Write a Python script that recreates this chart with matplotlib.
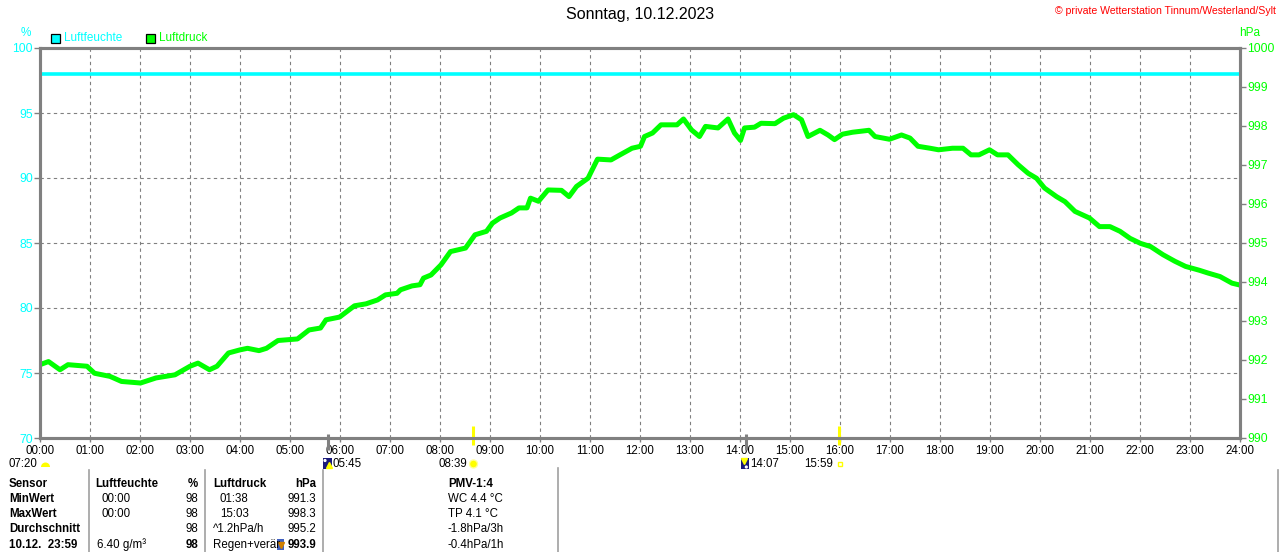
import matplotlib
matplotlib.use('Agg')
import matplotlib.pyplot as plt
from matplotlib.patches import Rectangle, Circle, Wedge

# Luftdruck (hPa) ueber den Tag, Stunden
stunden = [0.00, 0.17, 0.40, 0.56, 0.94, 1.09, 1.40, 1.63, 2.01, 2.32, 2.70, 3.00,
           3.16, 3.39, 3.54, 3.77, 4.00, 4.15, 4.38, 4.53, 4.76, 5.15, 5.38, 5.61,
           5.72, 5.99, 6.29, 6.52, 6.75, 6.91, 7.14, 7.21, 7.44, 7.60, 7.67, 7.82,
           8.02, 8.21, 8.51, 8.70, 8.93, 9.05, 9.20, 9.43, 9.58, 9.74, 9.81, 9.97,
           10.16, 10.43, 10.58, 10.73, 10.96, 11.15, 11.42, 11.60, 11.84, 12.01,
           12.09, 12.25, 12.42, 12.74, 12.87, 13.03, 13.19, 13.31, 13.56, 13.76,
           13.89, 14.01, 14.09, 14.29, 14.42, 14.70, 14.87, 15.07, 15.23, 15.36,
           15.60, 15.76, 15.89, 16.05, 16.25, 16.58, 16.70, 16.99, 17.23, 17.40,
           17.56, 17.80, 17.97, 18.25, 18.46, 18.62, 18.78, 18.99, 19.15, 19.36,
           19.56, 19.76, 19.93, 20.09, 20.33, 20.50, 20.70, 20.99, 21.19, 21.40,
           21.60, 21.80, 22.01, 22.21, 22.46, 22.70, 22.91, 23.19, 23.36, 23.60,
           23.84, 23.97]
luftdruck = [991.88, 991.96, 991.75, 991.88, 991.84, 991.66, 991.58, 991.45, 991.41,
             991.54, 991.62, 991.84, 991.92, 991.75, 991.84, 992.18, 992.26, 992.30,
             992.24, 992.30, 992.50, 992.54, 992.77, 992.82, 993.03, 993.10, 993.39,
             993.44, 993.54, 993.67, 993.71, 993.80, 993.90, 993.93, 994.10, 994.18,
             994.44, 994.78, 994.87, 995.21, 995.30, 995.51, 995.64, 995.77, 995.90,
             995.90, 996.15, 996.07, 996.36, 996.35, 996.19, 996.45, 996.66, 997.15,
             997.13, 997.26, 997.43, 997.48, 997.73, 997.82, 998.03, 998.03, 998.18,
             997.90, 997.73, 997.99, 997.95, 998.18, 997.82, 997.63, 997.95, 997.97,
             998.07, 998.06, 998.20, 998.29, 998.16, 997.73, 997.89, 997.77, 997.65,
             997.79, 997.84, 997.89, 997.73, 997.66, 997.77, 997.69, 997.48, 997.43,
             997.39, 997.43, 997.43, 997.26, 997.26, 997.39, 997.26, 997.26, 997.01,
             996.79, 996.66, 996.41, 996.19, 996.06, 995.81, 995.64, 995.42, 995.42,
             995.30, 995.12, 994.99, 994.91, 994.70, 994.53, 994.40, 994.30, 994.23,
             994.14, 993.97, 993.93]

# Luftfeuchte (%) konstant
feuchte_stunden = [0, 24]
luftfeuchte = [98, 98]

x_labels = ['%02d:00' % h for h in range(25)]
links_ticks = [70, 75, 80, 85, 90, 95, 100]
rechts_ticks = list(range(990, 1001))

# Sonne / Mond
sonne_auf, sonne_unter = '08:39', '15:59'
mond_auf, mond_unter = '05:45', '14:07'
tageslaenge = '07:20'

tabelle = [
    ('Sensor', 'Luftfeuchte', '%', 'Luftdruck', 'hPa', 'PMV-1:4'),
    ('MinWert', '00:00', '98', '01:38', '991.3', 'WC 4.4 °C'),
    ('MaxWert', '00:00', '98', '15:03', '998.3', 'TP 4.1 °C'),
    ('Durchschnitt', '', '98', '^1.2hPa/h', '995.2', '-1.8hPa/3h'),
    ('10.12.  23:59', '6.40 g/m³', '98', 'Regen+verär', '993.9', '-0.4hPa/1h'),
]

CYAN = '#00FFFF'
GRUEN = '#00FF00'
GRAU = '#808080'
W, H = 1280, 552

plt.rcParams['font.family'] = ['Liberation Sans', 'DejaVu Sans']


def zeit(s):
    h, m = s.split(':')
    return int(h) + int(m) / 60.0


def fx(x):
    return x / W


def fy(y):
    return 1 - y / H


fig = plt.figure(figsize=(12.8, 5.52), dpi=100)
ax = fig.add_axes([fx(40), fy(438), 1200 / W, 390 / H])
ax2 = ax.twinx()

ax.plot(feuchte_stunden, luftfeuchte, color=CYAN, lw=2.6, solid_capstyle='butt', zorder=3)
ax2.plot(stunden, luftdruck, color=GRUEN, lw=3.6, solid_joinstyle='round')

ax.set_xlim(0, 24)
ax.set_ylim(70, 100)
ax2.set_ylim(990, 1000)

ax.set_xticks(range(25))
ax.set_xticklabels(x_labels, fontsize=8.3)
ax.set_yticks(links_ticks)
ax.set_yticklabels([str(v) for v in links_ticks], fontsize=8.8, color=CYAN)
ax2.set_yticks(rechts_ticks)
ax2.set_yticklabels([str(v) for v in rechts_ticks], fontsize=8.8, color=GRUEN)

ax.grid(True, color=GRAU, linestyle=(0, (3, 3)), lw=0.8)
for a in (ax, ax2):
    for sp in a.spines.values():
        sp.set_color(GRAU)
        sp.set_linewidth(2.2)
ax.tick_params(axis='x', length=3, width=1, color=GRAU, pad=2)
ax.tick_params(axis='y', length=4, width=1, color=GRAU, pad=1)
ax2.tick_params(axis='y', length=4, width=1, color=GRAU, pad=1)

# Sonnen- und Mondzeiten an der Achse
ax.vlines([zeit(sonne_auf), zeit(sonne_unter)], 69.5, 70.9, color='#FFFF00', lw=2.2,
          clip_on=False, zorder=5)
ax.vlines([zeit(mond_auf), zeit(mond_unter)], 69.1, 70.3, color=GRAU, lw=2.2,
          clip_on=False, zorder=5)

# Overlay in Pixelkoordinaten fuer Symbole
ov = fig.add_axes([0, 0, 1, 1])
ov.set_xlim(0, W)
ov.set_ylim(H, 0)
ov.axis('off')
ov.patch.set_alpha(0)

fig.text(0.5, fy(15), 'Sonntag, 10.12.2023', ha='center', va='center', fontsize=11.5)
fig.text(fx(1276), fy(11), '© private Wetterstation Tinnum/Westerland/Sylt', ha='right',
         va='center', fontsize=7.6, color='red')
fig.text(fx(26), fy(33), '%', ha='center', va='center', fontsize=8.5, color=CYAN)
fig.text(fx(1250), fy(33), 'hPa', ha='center', va='center', fontsize=8.5, color=GRUEN)

# Legende
ov.add_patch(Rectangle((50.5, 33.5), 9, 9, facecolor=CYAN, edgecolor='black', lw=0.9))
fig.text(fx(64), fy(38), 'Luftfeuchte', ha='left', va='center', fontsize=8.5, color=CYAN)
ov.add_patch(Rectangle((145.5, 33.5), 9, 9, facecolor=GRUEN, edgecolor='black', lw=0.9))
fig.text(fx(159), fy(38), 'Luftdruck', ha='left', va='center', fontsize=8.5, color=GRUEN)

# Symbole unter der Zeitachse
def px_zeit(s):
    return 40 + zeit(s) * 50

fig.text(fx(37), fy(464), tageslaenge, ha='right', va='center', fontsize=8.3)
ov.add_patch(Wedge((45.5, 467), 4.5, 180, 360, facecolor='#FFFF00', edgecolor='none'))

xm = px_zeit(mond_auf)
ov.add_patch(Rectangle((xm - 5, 458), 9, 11, facecolor='#1a1a7a', edgecolor='none'))
ov.add_patch(Circle((xm - 2.5, 460.5), 1.6, facecolor='white', edgecolor='none'))
ov.plot([xm + 1], [465], marker='^', color='#FFFF00', markersize=4)
fig.text(fx(xm + 5), fy(464), mond_auf, ha='left', va='center', fontsize=8.3)

xs = px_zeit(sonne_auf)
fig.text(fx(xs - 5), fy(464), sonne_auf, ha='right', va='center', fontsize=8.3)
ov.add_patch(Circle((xs + 1, 464), 4, facecolor='#FFFF00', edgecolor='#FFFF99', lw=1))

xm2 = px_zeit(mond_unter)
ov.add_patch(Rectangle((xm2 - 5, 458), 8, 11, facecolor='#1a1a7a', edgecolor='none'))
ov.add_patch(Circle((xm2 + 0.5, 467), 1.6, facecolor='white', edgecolor='none'))
ov.plot([xm2 - 2], [461], marker='v', color='#FFFF00', markersize=4)
fig.text(fx(xm2 + 4), fy(464), mond_unter, ha='left', va='center', fontsize=8.3)

xs2 = px_zeit(sonne_unter)
fig.text(fx(xs2 - 6), fy(464), sonne_unter, ha='right', va='center', fontsize=8.3)
ov.add_patch(Rectangle((xs2 - 1.5, 461.5), 4, 4, facecolor='white', edgecolor='#FFFF00', lw=1))

# Tabelle
for xl, y0 in ((89, 470), (205, 470), (323, 470), (558, 468), (1278, 470)):
    ov.plot([xl, xl], [y0, H], color='#A0A0A0', lw=1.2)

zeilen_y = [484, 499, 514, 529, 545]
for i, zeile in enumerate(tabelle):
    y = fy(zeilen_y[i])
    kopf = i == 0
    fw = 'bold' if kopf else 'normal'
    fig.text(fx(9), y, zeile[0], ha='left', va='center', fontsize=8.3, fontweight='bold')
    fig.text(fx(95 if kopf else 101 if i < 4 else 97), y, zeile[1], ha='left', va='center',
             fontsize=8.3, fontweight=fw)
    fig.text(fx(198), y, zeile[2], ha='right', va='center', fontsize=8.3,
             fontweight='bold' if i in (0, 4) else 'normal')
    fig.text(fx(213 if kopf or i >= 3 else 220), y, zeile[3], ha='left', va='center',
             fontsize=8.3, fontweight=fw)
    fig.text(fx(316), y, zeile[4], ha='right', va='center', fontsize=8.3,
             fontweight='bold' if i in (0, 4) else 'normal')
    fig.text(fx(448), y, zeile[5], ha='left', va='center', fontsize=8.3, fontweight=fw)

# Tendenzpfeil
ov.add_patch(Rectangle((277, 539), 7, 11, facecolor='#4060C0', edgecolor='none'))
ov.plot([280.5], [545], marker='v', color='#D08000', markersize=5)

fig.savefig('out.png', dpi=100)
